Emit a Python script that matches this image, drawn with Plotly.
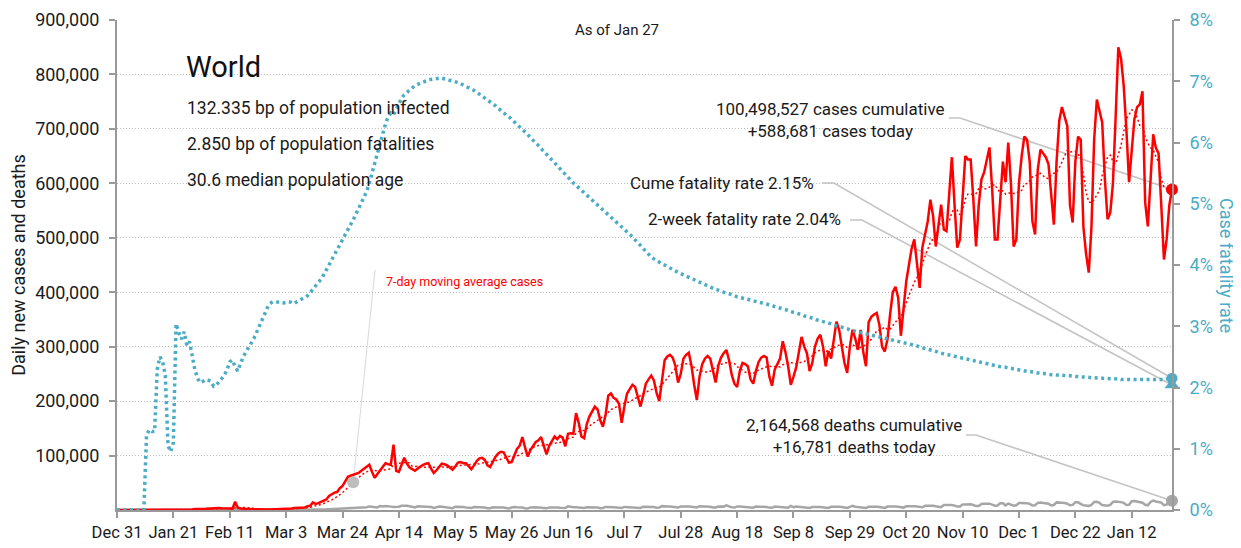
import pandas as pd
import plotly.graph_objects as go

# ---------------- data (daily, starting Dec 31 2019) ----------------
start_date = "2019-12-31"

cases = [
    27, 0, 0, 17, 0, 15, 0,
    0, 0, 0, 0, 0, 0, 1,
    0, 1, 0, 1, 4, 17, 136,
    19, 151, 140, 97, 259, 441, 665,
    787, 1753, 1466, 1740, 1980, 2102, 2590,
    2812, 3237, 3872, 3727, 3166, 3418, 2616,
    2984, 2028, 15153, 4050, 2502, 2072, 2055,
    1891, 1750, 394, 1018, 1000, 900, 420,
    850, 930, 1100, 1300, 1700, 1800, 1900,
    2400, 2600, 2700, 3900, 3900, 3800, 3900,
    4700, 6900, 8000, 14000, 11000, 12500, 14500,
    17000, 19500, 26000, 29000, 32000, 33000, 40000,
    44000, 52000, 61000, 63000, 65000, 66000, 68000,
    72000, 76000, 79000, 83000, 70000, 59000, 66000,
    72000, 80000, 86000, 84000, 83000, 120000, 72000,
    70000, 84000, 96000, 85000, 78000, 75000, 72000,
    76000, 80000, 83000, 85000, 86000, 76000, 68000,
    73000, 80000, 85000, 84000, 82000, 78000, 74000,
    80000, 87000, 88000, 86000, 86000, 80000, 75000,
    82000, 90000, 95000, 96000, 92000, 82000, 79000,
    90000, 98000, 104000, 107000, 106000, 96000, 87000,
    88000, 100000, 112000, 118000, 134000, 115000, 98000,
    110000, 118000, 125000, 128000, 134000, 118000, 102000,
    118000, 128000, 135000, 130000, 136000, 133000, 117000,
    140000, 141000, 140000, 178000, 160000, 135000, 132000,
    158000, 172000, 180000, 190000, 185000, 165000, 153000,
    175000, 210000, 214000, 206000, 203000, 195000, 160000,
    190000, 214000, 222000, 230000, 226000, 205000, 190000,
    210000, 232000, 240000, 247000, 238000, 215000, 200000,
    240000, 275000, 282000, 285000, 280000, 265000, 234000,
    250000, 278000, 285000, 289000, 265000, 230000, 202000,
    245000, 268000, 278000, 283000, 278000, 255000, 234000,
    265000, 280000, 288000, 294000, 275000, 248000, 232000,
    226000, 255000, 270000, 268000, 264000, 240000, 232000,
    255000, 272000, 280000, 283000, 280000, 245000, 228000,
    258000, 268000, 278000, 310000, 290000, 264000, 230000,
    245000, 262000, 290000, 318000, 300000, 288000, 255000,
    270000, 300000, 315000, 322000, 300000, 264000, 292000,
    278000, 310000, 346000, 331000, 300000, 270000, 252000,
    300000, 331000, 315000, 294000, 331000, 290000, 264000,
    345000, 355000, 359000, 362000, 340000, 300000, 291000,
    313000, 360000, 400000, 410000, 390000, 320000, 370000,
    420000, 450000, 480000, 497000, 450000, 408000, 482000,
    505000, 530000, 570000, 540000, 484000, 520000, 561000,
    515000, 512000, 580000, 648000, 560000, 482000, 497000,
    580000, 650000, 644000, 644000, 570000, 484000, 560000,
    607000, 620000, 645000, 666000, 590000, 497000, 497000,
    570000, 640000, 602000, 675000, 600000, 484000, 497000,
    600000, 650000, 686000, 680000, 640000, 530000, 506000,
    625000, 662000, 655000, 648000, 635000, 580000, 524000,
    640000, 715000, 740000, 720000, 705000, 560000, 528000,
    640000, 686000, 680000, 520000, 470000, 436000, 520000,
    680000, 754000, 730000, 712000, 607000, 534000, 546000,
    600000, 721000, 850000, 830000, 780000, 700000, 602000,
    660000, 718000, 740000, 745000, 769000, 565000, 521000,
    600000, 690000, 665000, 655000, 560000, 460000, 497000,
    560000, 588681,
]

deaths = [
    0, 0, 0, 0, 0, 0, 0,
    0, 0, 0, 0, 1, 0, 0,
    0, 1, 0, 0, 1, 0, 3,
    3, 9, 8, 16, 15, 24, 26,
    26, 38, 43, 46, 45, 57, 64,
    66, 73, 73, 86, 89, 97, 108,
    97, 254, 13, 143, 142, 106, 98,
    139, 115, 118, 109, 97, 150, 71,
    52, 29, 44, 47, 35, 42, 31,
    38, 31, 30, 41, 46, 103, 204,
    256, 334, 349, 441, 375, 754, 843,
    1000, 1154, 1447, 1705, 1873, 1836, 2000,
    2409, 2687, 2930, 3558, 3604, 3250, 3300,
    4300, 4940, 5100, 6600, 5900, 4800, 4700,
    7400, 6600, 7300, 7400, 6200, 5700, 5400,
    6000, 7700, 8100, 7600, 6800, 6100, 4800,
    6900, 6800, 6400, 5900, 5500, 5300, 3900,
    5800, 6400, 5900, 5400, 5200, 4100, 3400,
    6000, 6100, 5500, 5300, 4600, 3800, 3600,
    5300, 5500, 5200, 5100, 4700, 3400, 3300,
    4900, 5100, 4700, 5300, 4500, 3500, 3000,
    4500, 5600, 5000, 5000, 4500, 3300, 2900,
    4800, 5400, 5100, 4800, 4200, 3200, 3100,
    4800, 5200, 4900, 4700, 4200, 3600, 3500,
    6700, 5300, 5200, 5100, 4700, 3600, 3900,
    5100, 5000, 5200, 5100, 4700, 3400, 3700,
    5600, 5000, 5100, 5000, 4800, 3900, 3900,
    5700, 5400, 5400, 5600, 5200, 4000, 3900,
    6000, 6100, 5900, 6100, 5600, 4200, 4400,
    7100, 6300, 6500, 6200, 5800, 4200, 4500,
    6300, 6600, 6200, 6400, 5800, 4500, 4500,
    6900, 6700, 6500, 6500, 6000, 4700, 4600,
    6500, 6600, 6200, 8400, 5900, 4800, 4400,
    6500, 6500, 6100, 6000, 5600, 4300, 4300,
    6400, 6300, 5900, 5800, 5500, 4400, 4000,
    6200, 6000, 5800, 5800, 5300, 4200, 7500,
    5300, 6200, 5900, 5800, 5400, 4200, 3900,
    5600, 6200, 5700, 5700, 5400, 4000, 3800,
    5900, 6300, 5900, 5800, 5300, 4100, 3700,
    5700, 7500, 6000, 5800, 5500, 4100, 3900,
    6000, 6300, 6100, 5900, 5600, 4200, 3900,
    6400, 6700, 6400, 6500, 6100, 4600, 4400,
    6800, 7200, 6900, 6800, 6300, 5000, 5000,
    7700, 8000, 7700, 7900, 7000, 5600, 5300,
    9000, 9400, 9300, 9100, 8100, 6500, 6400,
    10100, 10300, 10700, 10400, 9200, 7200, 7400,
    11000, 11300, 11700, 11600, 9900, 7800, 8300,
    12500, 12400, 8500, 11800, 10500, 7900, 8600,
    12800, 12700, 12800, 12600, 11100, 8300, 8800,
    13100, 13700, 13000, 12800, 11600, 8400, 9200,
    14000, 13100, 13500, 12900, 11500, 8600, 9300,
    14300, 14100, 11300, 8600, 8300, 7500, 9500,
    14700, 15000, 13000, 9000, 8600, 7800, 9400,
    15000, 15600, 15600, 14500, 13100, 9300, 9700,
    16200, 16400, 15700, 15100, 13300, 9500, 8600,
    14900, 17400, 15600, 14700, 13700, 9000, 9900,
    16700, 16781,
]

# cumulative case fatality rate, percent
cfr = [
    0, 0, 0, 0, 0, 0, 0,
    0, 0, 0, 0, 1.22, 1.31, 1.28,
    1.28, 2.30, 2.50, 2.42, 2.20, 1.05, 0.95,
    1.10, 3.04, 2.90, 2.79, 2.91, 2.69, 2.75,
    2.53, 2.29, 2.15, 2.08, 2.10, 2.13, 2.12,
    2.10, 2.02, 2.04, 2.09, 2.15, 2.20, 2.29,
    2.42, 2.45, 2.34, 2.27, 2.39, 2.50, 2.58,
    2.65, 2.72, 2.80, 2.90, 3.00, 3.12, 3.22,
    3.30, 3.37, 3.40, 3.40, 3.39, 3.38, 3.38,
    3.39, 3.40, 3.39, 3.37, 3.40, 3.43, 3.45,
    3.47, 3.50, 3.55, 3.60, 3.65, 3.70, 3.77,
    3.84, 3.92, 4.00, 4.08, 4.16, 4.24, 4.32,
    4.40, 4.48, 4.56, 4.65, 4.74, 4.83, 4.92,
    5.00, 5.08, 5.20, 5.34, 5.50, 5.68, 5.85,
    6.00, 6.18, 6.30, 6.42, 6.48, 6.45, 6.55,
    6.64, 6.72, 6.78, 6.82, 6.86, 6.90, 6.93,
    6.95, 6.97, 6.99, 7.01, 7.02, 7.03, 7.04,
    7.05, 7.05, 7.05, 7.04, 7.03, 7.02, 7.01,
    7.00, 6.98, 6.96, 6.94, 6.92, 6.90, 6.88,
    6.85, 6.82, 6.79, 6.76, 6.73, 6.70, 6.67,
    6.63, 6.60, 6.56, 6.52, 6.49, 6.45, 6.42,
    6.38, 6.34, 6.30, 6.26, 6.21, 6.17, 6.13,
    6.08, 6.04, 5.99, 5.95, 5.90, 5.86, 5.81,
    5.76, 5.72, 5.67, 5.62, 5.57, 5.52, 5.47,
    5.42, 5.38, 5.34, 5.30, 5.26, 5.22, 5.18,
    5.14, 5.10, 5.06, 5.02, 4.98, 4.94, 4.90,
    4.86, 4.82, 4.78, 4.74, 4.70, 4.66, 4.63,
    4.59, 4.55, 4.50, 4.46, 4.41, 4.37, 4.32,
    4.27, 4.22, 4.18, 4.13, 4.10, 4.07, 4.05,
    4.02, 4.00, 3.97, 3.95, 3.93, 3.90, 3.88,
    3.86, 3.84, 3.82, 3.80, 3.77, 3.75, 3.73,
    3.71, 3.69, 3.67, 3.65, 3.63, 3.62, 3.60,
    3.59, 3.57, 3.56, 3.54, 3.53, 3.51, 3.50,
    3.48, 3.47, 3.46, 3.45, 3.44, 3.43, 3.42,
    3.41, 3.40, 3.38, 3.37, 3.36, 3.35, 3.34,
    3.32, 3.31, 3.30, 3.28, 3.27, 3.26, 3.24,
    3.23, 3.22, 3.20, 3.19, 3.17, 3.16, 3.15,
    3.13, 3.12, 3.10, 3.09, 3.08, 3.06, 3.05,
    3.04, 3.02, 3.01, 3.00, 2.98, 2.97, 2.96,
    2.94, 2.93, 2.92, 2.91, 2.90, 2.89, 2.88,
    2.87, 2.86, 2.85, 2.84, 2.83, 2.82, 2.81,
    2.80, 2.79, 2.78, 2.77, 2.76, 2.75, 2.74,
    2.73, 2.72, 2.70, 2.69, 2.68, 2.66, 2.65,
    2.64, 2.63, 2.61, 2.60, 2.59, 2.57, 2.56,
    2.55, 2.53, 2.52, 2.51, 2.50, 2.49, 2.48,
    2.47, 2.46, 2.45, 2.44, 2.43, 2.42, 2.41,
    2.40, 2.39, 2.38, 2.37, 2.36, 2.35, 2.35,
    2.34, 2.33, 2.33, 2.32, 2.31, 2.30, 2.29,
    2.29, 2.28, 2.27, 2.27, 2.26, 2.25, 2.24,
    2.24, 2.23, 2.23, 2.22, 2.22, 2.21, 2.21,
    2.20, 2.20, 2.20, 2.19, 2.19, 2.19, 2.18,
    2.18, 2.18, 2.17, 2.17, 2.17, 2.16, 2.16,
    2.16, 2.15, 2.15, 2.15, 2.15, 2.14, 2.14,
    2.14, 2.14, 2.14, 2.13, 2.13, 2.13, 2.13,
    2.12, 2.12, 2.12, 2.12, 2.12, 2.12, 2.12,
    2.12, 2.12, 2.12, 2.13, 2.13, 2.13, 2.14,
    2.14, 2.15,
]

two_week_cfr = 2.04
ma_label_day = 88

title_text = "World"
stats_lines = [
    "132.335 bp of population infected",
    "2.850 bp of population fatalities",
    "30.6 median population age",
]
as_of_text = "As of Jan 27"
cases_label = "100,498,527 cases cumulative<br>+588,681 cases today"
deaths_label = "2,164,568 deaths cumulative<br>+16,781 deaths today"
cume_label = "Cume fatality rate 2.15%"
twoweek_label = "2-week fatality rate 2.04%"
ma_label = "7-day moving average cases"

# ---------------- derived ----------------
n = min(len(cases), len(deaths), len(cfr))
cases, deaths, cfr = cases[:n], deaths[:n], cfr[:n]
dates = pd.date_range(start_date, periods=n, freq="D")
ma7 = pd.Series(cases).rolling(7, min_periods=1).mean().tolist()

# ---------------- style / layout ----------------
FONT = "Roboto, Liberation Sans, sans-serif"
RED = "#ff0000"
TEAL = "#4bacc6"
GREY = "#a6a6a6"
LINEGREY = "#c4c4c4"
AXGREY = "#9a9a9a"
INK = "#1a1a1a"
OFF = 8                      # page body margin
W, H = 1241 - OFF, 548 - OFF
ML, MR, MT, MB = 109, 69, 12, 38
PW, PH = W - ML - MR, H - MT - MB
Y_MAX, Y2_MAX = 900000, 8


def px(x):
    """reference-window pixel x -> paper x"""
    return (x - OFF - ML) / PW


def py(y):
    """reference-window pixel y -> paper y"""
    return (OFF + H - MB - y) / PH


fig = go.Figure()

fig.add_trace(go.Scatter(x=dates, y=cfr, yaxis="y2", mode="lines",
                         line=dict(color=TEAL, width=3.5, dash="3px,3.5px"),
                         hoverinfo="skip", cliponaxis=False))
fig.add_trace(go.Scatter(x=dates, y=deaths, mode="lines",
                         line=dict(color=GREY, width=2.5), hoverinfo="skip"))
fig.add_trace(go.Scatter(x=dates, y=ma7, mode="lines",
                         line=dict(color=RED, width=1.5, dash="2px,2.5px"),
                         hoverinfo="skip"))
fig.add_trace(go.Scatter(x=dates, y=cases, mode="lines",
                         line=dict(color=RED, width=2.5), hoverinfo="skip"))

# end markers
last = dates[-1]
fig.add_trace(go.Scatter(x=[dates[ma_label_day]], y=[ma7[ma_label_day]], mode="markers",
                         marker=dict(color="#bdbdbd", size=12), hoverinfo="skip",
                         cliponaxis=False))
fig.add_trace(go.Scatter(x=[last], y=[cases[-1]], mode="markers",
                         marker=dict(color=RED, size=12), hoverinfo="skip", cliponaxis=False))
fig.add_trace(go.Scatter(x=[last], y=[deaths[-1]], mode="markers",
                         marker=dict(color=GREY, size=12), hoverinfo="skip", cliponaxis=False))
fig.add_trace(go.Scatter(x=[last], y=[cfr[-1]], yaxis="y2", mode="markers",
                         marker=dict(color=TEAL, size=11), hoverinfo="skip", cliponaxis=False))
fig.add_trace(go.Scatter(x=[last], y=[two_week_cfr], yaxis="y2", mode="markers",
                         marker=dict(color=TEAL, size=13, symbol="triangle-up"),
                         hoverinfo="skip", cliponaxis=False))

tick_dates = pd.date_range(start_date, dates[-1], freq="21D")

fig.update_layout(
    width=W, height=H,
    margin=dict(l=ML, r=MR, t=MT, b=MB, pad=0),
    paper_bgcolor="white", plot_bgcolor="white",
    showlegend=False, hovermode=False,
    font=dict(family=FONT, size=18, color=INK),
    xaxis=dict(
        range=[dates[0], dates[-1]], tickvals=tick_dates, tickformat="%b %-d",
        tickangle=0, automargin=False,
        showgrid=False, showline=True, linecolor=AXGREY, linewidth=2,
        ticks="outside", ticklen=6, tickcolor=AXGREY, tickwidth=1.5,
        tickfont=dict(size=16.5, color=INK), zeroline=False,
    ),
    yaxis=dict(
        range=[0, Y_MAX], tickvals=list(range(100000, Y_MAX + 1, 100000)),
        tickformat=",d", showgrid=True, gridcolor="#bbbbbb", griddash="1px,2px", gridwidth=1,
        showline=True, linecolor=AXGREY, linewidth=2, zeroline=False, automargin=False,
        ticks="outside", ticklen=6, tickcolor=AXGREY, tickwidth=1.5,
        tickfont=dict(size=18, color=INK), ticklabelstandoff=6,
        title=dict(text="Daily new cases and deaths", font=dict(size=18, color=INK),
                   standoff=8),
    ),
    yaxis2=dict(
        range=[0, Y2_MAX], overlaying="y", side="right", dtick=1, ticksuffix="%",
        showgrid=False, showline=True, linecolor=AXGREY, linewidth=2, zeroline=False,
        automargin=False,
        ticks="outside", ticklen=6, tickcolor=AXGREY, tickwidth=1.5,
        tickfont=dict(size=18, color=TEAL), ticklabelstandoff=6,
    ),
)

ann = []
ann.append(dict(text=as_of_text, x=px(617), y=py(30), font=dict(size=15)))
ann.append(dict(text=title_text, x=px(184), y=py(67), xanchor="left", font=dict(size=29, color="#111")))
for i, s in enumerate(stats_lines):
    ann.append(dict(text=s, x=px(185), y=py(108 + 36 * i), xanchor="left", font=dict(size=17.5)))
ann.append(dict(text=cases_label, x=px(830), y=py(120), font=dict(size=17)))
ann.append(dict(text=cume_label, x=px(816), y=py(183), xanchor="right", font=dict(size=17)))
ann.append(dict(text=twoweek_label, x=px(843), y=py(219), xanchor="right", font=dict(size=17)))
ann.append(dict(text=deaths_label, x=px(854), y=py(436), font=dict(size=17)))
ann.append(dict(text=ma_label, x=px(384), y=py(281), xanchor="left", font=dict(size=12.5, color=RED)))
ann.append(dict(text="Case fatality rate", x=px(1227), y=py(265), textangle=90,
                font=dict(size=18, color=TEAL)))
for a in ann:
    a.setdefault("xanchor", "center")
    a.update(xref="paper", yref="paper", showarrow=False, yanchor="middle")
fig.update_layout(annotations=ann)


# connector lines
def elbow(x0, y0, x1, yend):
    return f"M {px(x0)},{py(y0)} L {px(x1)},{py(y0)} L 1,{yend}"


conn = [
    elbow(949, 118, 960, cases[-1] / Y_MAX),
    elbow(822, 183, 834, cfr[-1] / Y2_MAX),
    elbow(850, 220, 862, two_week_cfr / Y2_MAX),
    elbow(966, 435, 976, deaths[-1] / Y_MAX),
]
shapes = [dict(type="path", path=p, xref="paper", yref="paper", layer="below",
               line=dict(color=LINEGREY, width=1.6)) for p in conn]
shapes.append(dict(type="line", xref="paper", yref="paper", layer="below",
                   x0=px(375), y0=py(270), x1=ma_label_day / (n - 1), y1=ma7[ma_label_day] / Y_MAX,
                   line=dict(color="#d9d9d9", width=1)))
fig.update_layout(shapes=shapes)

fig.write_html("out.html")
